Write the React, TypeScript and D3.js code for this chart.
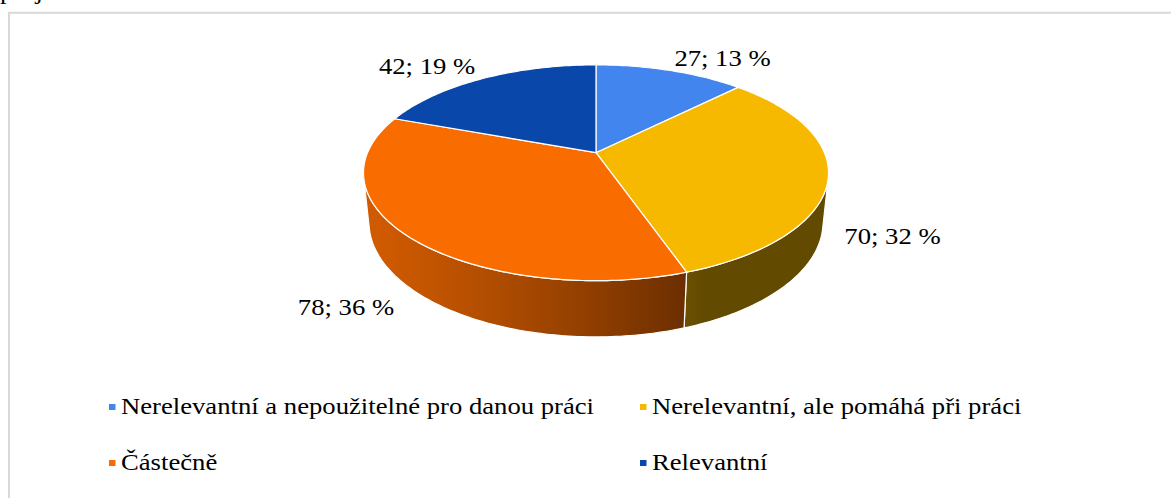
import * as d3 from "d3";

// data
const categories = [
  "Nerelevantní a nepoužitelné pro danou práci",
  "Nerelevantní, ale pomáhá při práci",
  "Částečně",
  "Relevantní",
];
const counts = [27, 70, 78, 42];
const percents = [13, 32, 36, 19];
const colors = ["#4385ef", "#f6b900", "#f96c00", "#0a47aa"];

const W = 1171;
const H = 498;

// 3d view (units: camera distance = 1)
const cx = 596;
const cy = 152.7;
const R = 0.209; // pie radius
const T = 0.0515; // pie thickness
const F = 1093; // focal length in px
const sinA = 0.456;
const cosA = Math.sqrt(1 - sinA * sinA);

const font = "'Liberation Serif', 'Times New Roman', serif";
const fontSize = 23;
const stretch = 1.16; // text in the picture is a bit wider than tall

// phi: 0 at the far side, clockwise seen from above (same as d3.pie)
function project(phi: number, r: number, y: number): [number, number] {
  const X = r * Math.sin(phi);
  const Z = r * Math.cos(phi);
  const depth = 1 - y * sinA + Z * cosA;
  const up = y * cosA + Z * sinA;
  return [cx + (F * X) / depth, cy - (F * up) / depth];
}

// outer wall faces the camera where cos(phi) < -R / cosA
const visFrom = Math.acos(-R / cosA);
const visTo = 2 * Math.PI - visFrom;

function shade(phi: number) {
  return 0.4 + Math.max(0, -0.4 * Math.sin(phi) - 0.17 * Math.cos(phi));
}

function sample(a0: number, a1: number) {
  const n = Math.max(2, Math.ceil(((a1 - a0) * 180) / Math.PI));
  return d3.range(n + 1).map((i) => a0 + ((a1 - a0) * i) / n);
}

const line = d3.line().curve(d3.curveLinear);

export default function App() {
  const pie = d3
    .pie<number>()
    .sort(null)
    .value((d) => d);
  const arcs = pie(counts);

  const sides = arcs
    .map((a, i) => {
      const a0 = Math.max(a.startAngle, visFrom);
      const a1 = Math.min(a.endAngle, visTo);
      if (a1 <= a0) return null;
      const angs = sample(a0, a1);
      const top = angs.map((p) => project(p, R, 0));
      const bot = angs.map((p) => project(p, R, -T)).reverse();
      const xs = top.map((p) => p[0]);
      const x0 = d3.min(xs)!;
      const x1 = d3.max(xs)!;
      const base = d3.rgb(colors[i]);
      const stops = angs.map((p, k) => {
        const f = shade(p);
        return {
          offset: x1 > x0 ? (xs[k] - x0) / (x1 - x0) : 0,
          color: d3.rgb(base.r * f, base.g * f, base.b * f).formatHex(),
        };
      });
      return { i, d: line([...top, ...bot])! + "Z", x0, x1, stops };
    })
    .filter((s) => s !== null) as any[];

  const tops = arcs.map((a, i) => {
    const pts = [[cx, cy] as [number, number], ...sample(a.startAngle, a.endAngle).map((p) => project(p, R, 0))];
    return { i, d: line(pts)! + "Z" };
  });

  const labelHalfW = 46;
  const labelHalfH = 6;
  const labels = arcs.map((a, i) => {
    const mid = (a.startAngle + a.endAngle) / 2;
    const front = Math.cos(mid) < 0;
    const [px, py] = project(mid, R * 1.1, front ? -T : 0);
    const sx = Math.sign(px - cx);
    const sy = Math.sign(py - cy);
    return {
      i,
      x: px + sx * labelHalfW,
      y: py + sy * labelHalfH,
      text: `${counts[i]}; ${percents[i]} %`,
    };
  });

  const legendX = 109;
  const legendY = 404;
  const colW = 531;
  const rowH = 56;

  return (
    <div style={{ position: "absolute", left: 0, top: 0 }}>
      <svg width={W} height={H} style={{ display: "block", background: "#fff" }}>
        <defs>
          {sides.map((s: any) => (
            <linearGradient key={s.i} id={`side${s.i}`} gradientUnits="userSpaceOnUse" x1={s.x0} x2={s.x1} y1={0} y2={0}>
              {s.stops
                .slice()
                .sort((a: any, b: any) => a.offset - b.offset)
                .map((st: any, k: number) => (
                  <stop key={k} offset={st.offset} stopColor={st.color} />
                ))}
            </linearGradient>
          ))}
        </defs>

        {/* text of the page above the chart, cut off */}
        <text x={0} y={-1} fontFamily={font} fontSize={fontSize} transform={`scale(${stretch},1)`}>
          projektu
        </text>

        <rect x={9} y={12.8} width={W} height={H} fill="#fff" stroke="#d9d9d9" strokeWidth={2} />

        {sides.map((s: any) => (
          <path key={s.i} d={s.d} fill={`url(#side${s.i})`} stroke="#fff" strokeWidth={1.2} strokeLinejoin="round" />
        ))}
        {tops.map((t) => (
          <path key={t.i} d={t.d} fill={colors[t.i]} stroke="#fff" strokeWidth={1.2} strokeLinejoin="round" />
        ))}

        {labels.map((l) => (
          <g key={l.i} transform={`translate(${l.x},${l.y}) scale(${stretch},1)`}>
            <text textAnchor="middle" dy="0.35em" fontFamily={font} fontSize={fontSize} fill="#000">
              {l.text}
            </text>
          </g>
        ))}

        {categories.map((c, i) => {
          const x = legendX + (i % 2) * colW;
          const y = legendY + Math.floor(i / 2) * rowH;
          return (
            <g key={c}>
              <rect x={x} y={y} width={6.5} height={6} fill={colors[i]} />
              <g transform={`translate(${x + 12},${y + 10}) scale(${stretch},1)`}>
                <text fontFamily={font} fontSize={fontSize} fill="#000">
                  {c}
                </text>
              </g>
            </g>
          );
        })}
      </svg>
    </div>
  );
}
